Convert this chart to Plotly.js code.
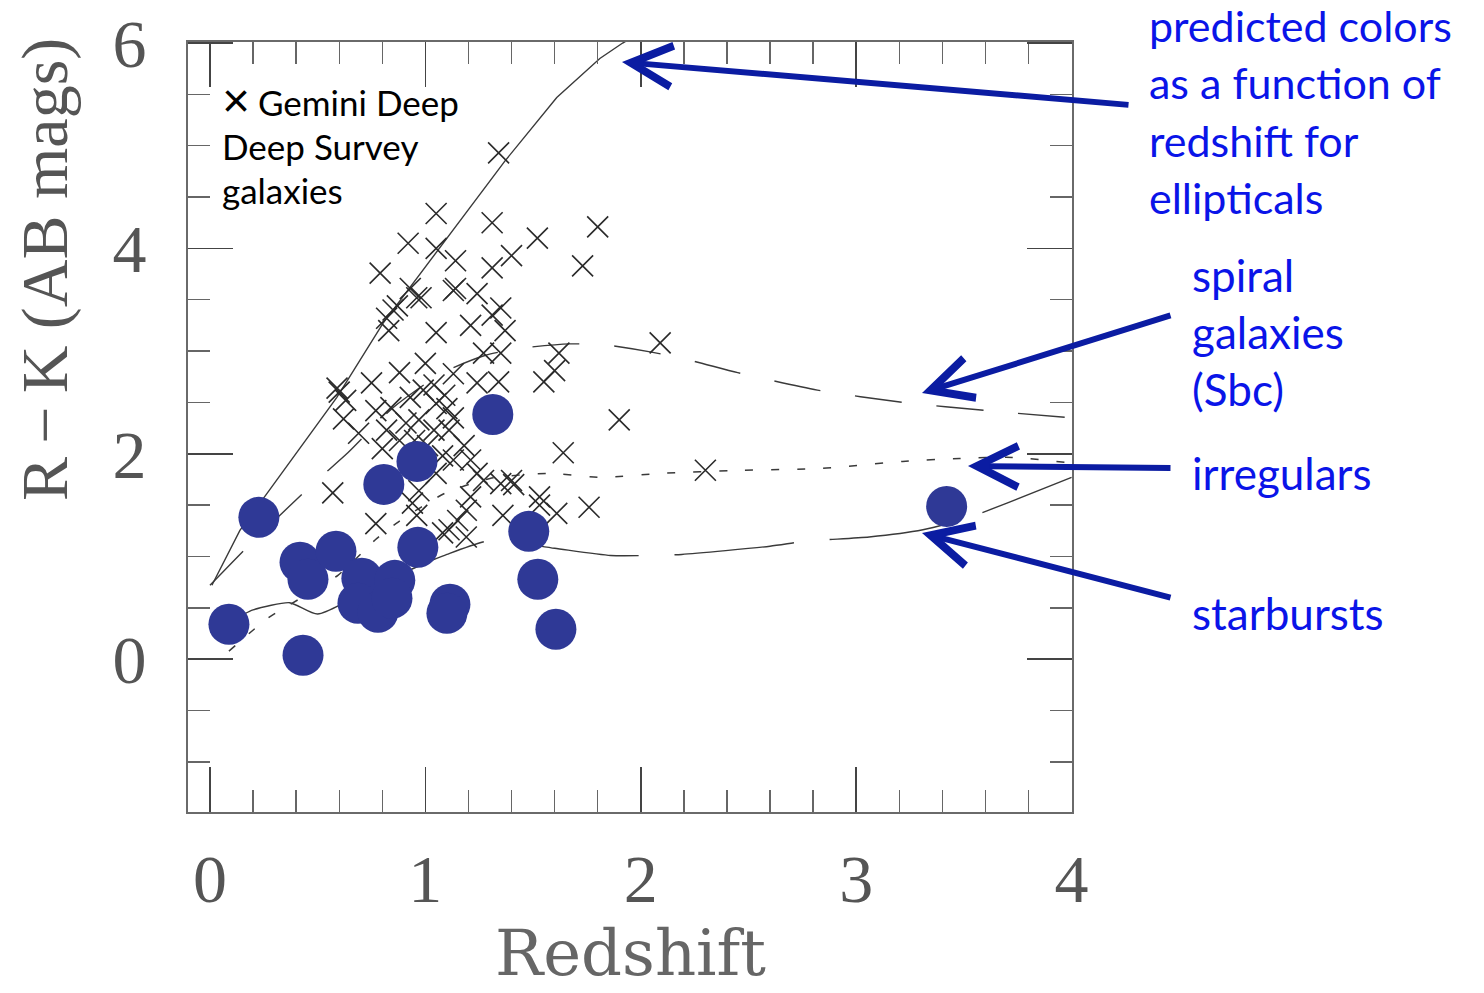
<!DOCTYPE html>
<html>
<head>
<meta charset="utf-8">
<script src="https://cdn.plot.ly/plotly-3.0.1.min.js"></script>
<style>
  html, body { margin: 0; padding: 0; background: #ffffff; }
  #chart { width: 1484px; height: 993px; }
</style>
</head>
<body>
<div id="chart"></div>
<script>
// Gemini Deep Deep Survey galaxies (redshift, R-K colour)
const gddsZ = [1.34,1.05,1.31,1.80,1.52,1.40,1.73,0.92,0.79,1.05,
               1.14,1.31,1.13,1.24,0.96,0.85,0.82,1.35,1.31,0.83,
               1.05,1.21,1.27,1.00,0.88,0.75,0.60,1.13,1.24,0.84,
               0.93,0.99,1.05,1.10,1.13,0.97,0.91,0.82,0.69,0.62,
               0.80,1.04,1.11,1.37,1.35,1.34,1.62,1.60,1.55,2.09,
               1.90,1.64,0.57,0.77,1.13,1.05,0.97,0.94,0.96,1.24,
               1.27,1.21,1.19,1.15,1.11,1.19,1.08,1.40,1.35,1.53,
               1.53,1.61,1.76,1.36,2.30,0.63,0.98,1.14,1.41,1.01,
               1.08,1.18,1.21,0.77,0.88,0.95,1.04,1.09,0.87,0.93,
               0.59];
const gddsRK = [4.93,4.34,4.25,4.21,4.10,3.93,3.83,4.05,3.76,4.00,
                3.88,3.81,3.59,3.56,3.52,3.40,3.32,3.42,3.35,3.20,
                3.18,3.25,2.98,2.88,2.79,2.69,2.60,2.78,2.69,2.45,
                2.55,2.62,2.49,2.44,2.35,2.33,2.30,2.23,2.20,2.34,
                2.05,2.23,2.23,3.20,2.98,2.70,2.98,2.81,2.70,3.08,
                2.33,2.01,1.62,1.32,1.94,1.81,1.64,1.52,1.40,1.81,
                1.74,1.58,1.45,1.35,1.26,1.19,1.23,1.74,1.71,1.58,
                1.50,1.42,1.48,1.40,1.84,2.52,3.52,3.61,1.70,2.08,
                1.98,2.08,1.94,2.42,2.13,2.13,2.67,2.57,3.44,3.61,
                2.64];

// Highlighted galaxies (filled blue circles)
const dotZ  = [0.227,0.088,0.432,0.418,0.455,0.585,0.807,0.961,0.965,1.313,
               1.480,1.522,1.606,1.114,1.100,3.420,0.705,0.858,0.687,0.780,0.845];
const dotRK = [1.381,0.340,0.039,0.944,0.778,1.051,1.702,1.926,1.089,2.383,
               1.245,0.778,0.292,0.535,0.447,1.488,0.788,0.768,0.545,0.457,0.593];

// Model colour tracks versus redshift
const ellZ  = [0.009,0.139,0.265,0.385,0.589,0.803,0.942,1.10,1.369,1.61,1.81,1.916,2.0];
const ellRK = [0.72,1.255,1.615,1.965,2.55,3.27,3.66,4.10,4.85,5.47,5.85,6.0,6.1];

const sbcZ  = [0.0,0.2,0.48,0.64,0.85,1.08,1.28,1.45,1.67,1.84,2.05,2.23,2.45,2.82,3.22,3.61,4.0];
const sbcRK = [0.72,1.15,1.71,2.01,2.45,2.79,2.96,3.03,3.07,3.06,2.99,2.91,2.79,2.62,2.50,2.42,2.35];

const irrZ  = [0.088,0.269,0.594,0.775,0.872,1.09,1.30,1.564,1.824,2.088,2.459,2.845,3.216,3.48,3.726,4.0];
const irrRK = [0.078,0.40,0.817,1.177,1.333,1.615,1.76,1.809,1.770,1.809,1.839,1.858,1.926,1.955,1.965,1.91];

const sbZ  = [0.09,0.2,0.37,0.5,0.8,1.1,1.31,1.60,1.86,2.04,2.19,2.60,2.77,3.06,3.31,3.51,3.70,4.0];
const sbRK = [0.36,0.48,0.55,0.44,0.75,1.02,1.16,1.08,1.01,1.01,1.02,1.10,1.15,1.19,1.26,1.37,1.52,1.77];

// Text labels
const legendLines = ['Gemini Deep', 'Deep Survey', 'galaxies'];
const ellLabel = ['predicted colors', 'as a function of', 'redshift for', 'ellipticals'];
const sbcLabel = ['spiral', 'galaxies', '(Sbc)'];
const irrLabel = ['irregulars'];
const sbLabel = ['starbursts'];

const lineColor = '#3a3a3a';
const noteBlue = '#0a14e8';
const arrowBlue = '#0b1ca2';

const traces = [
  { x: ellZ, y: ellRK, mode: 'lines', line: { color: lineColor, width: 1.4 }, hoverinfo: 'skip' },
  { x: sbcZ, y: sbcRK, mode: 'lines', line: { color: lineColor, width: 1.4, dash: '47px,35px', shape: 'spline', smoothing: 0.6 }, hoverinfo: 'skip' },
  { x: irrZ, y: irrRK, mode: 'lines', line: { color: lineColor, width: 1.5, dash: '8px,18px', shape: 'spline', smoothing: 0.6 }, hoverinfo: 'skip' },
  { x: sbZ, y: sbRK, mode: 'lines', line: { color: lineColor, width: 1.4, dash: '120px,36px', shape: 'spline', smoothing: 0.6 }, hoverinfo: 'skip' },
  { x: gddsZ, y: gddsRK, mode: 'markers',
    marker: { symbol: 'x-thin-open', size: 21, color: '#2a2a2a', line: { color: '#2a2a2a', width: 1.6 } } },
  { x: dotZ, y: dotRK, mode: 'markers',
    marker: { symbol: 'circle', size: 41, color: '#2f3996', line: { width: 0 } } }
];

// Plot area in pixels: left 188, right 1072, top 42, bottom 812
const L = 188, R = 1072, T = 42, B = 812;
const px = v => (v - L) / (R - L);
const py = v => (B - v) / (B - T);

const annotations = [];

// Legend entry for the crosses
annotations.push({ xref: 'paper', yref: 'paper', x: px(220), y: py(101), xanchor: 'left', yanchor: 'middle',
  text: '×', showarrow: false, font: { family: 'Liberation Sans', size: 48, color: '#000' } });
legendLines.forEach((t, i) => {
  annotations.push({ xref: 'paper', yref: 'paper', x: px(i === 0 ? 256 : 220), y: py(102 + 44 * i),
    xanchor: 'left', yanchor: 'middle', text: t, showarrow: false,
    font: { family: 'Lato', size: 35, color: '#000' } });
});

function addBlock(lines, left, firstY, size) {
  lines.forEach((t, i) => {
    annotations.push({ xref: 'paper', yref: 'paper', x: px(left), y: py(firstY + 57 * i),
      xanchor: 'left', yanchor: 'middle', text: t, showarrow: false,
      font: { family: 'Lato', size: size, color: noteBlue } });
  });
}
addBlock(ellLabel, 1147, 26, 43);
addBlock(sbcLabel, 1190, 275, 44);
addBlock(irrLabel, 1190, 473, 44);
addBlock(sbLabel, 1190, 613, 44);

// Pointer arrows (tip, tail in pixels)
const arrows = [
  [622, 62, 1130, 105],
  [922, 393, 1172, 315],
  [968, 466, 1172, 468],
  [922, 533, 1172, 598]
];
arrows.forEach(a => {
  annotations.push({ xref: 'paper', yref: 'paper', x: px(a[0]), y: py(a[1]),
    ax: a[2] - a[0], ay: a[3] - a[1], axref: 'pixel', ayref: 'pixel',
    text: '', showarrow: true, arrowhead: 5, arrowsize: 1.35, arrowwidth: 6, arrowcolor: arrowBlue, standoff: 0 });
});

// Axis titles
annotations.push({ xref: 'paper', yref: 'paper', x: px(45), y: py(270), xanchor: 'center', yanchor: 'middle',
  text: 'R\u2009\u2212\u2009K (AB mags)', textangle: -90, showarrow: false,
  font: { family: 'Liberation Serif', size: 66, color: '#555' } });
annotations.push({ xref: 'paper', yref: 'paper', x: px(630), y: py(953), xanchor: 'center', yanchor: 'middle',
  text: 'Redshift', showarrow: false,
  font: { family: 'DejaVu Serif', size: 64, color: '#666' } });

const tickFont = { family: 'Liberation Serif', size: 68, color: '#555' };

const layout = {
  width: 1484, height: 993,
  margin: { l: L, r: 1484 - R, t: T, b: 993 - B, pad: 0 },
  paper_bgcolor: '#fff', plot_bgcolor: '#fff',
  showlegend: false,
  xaxis: {
    range: [-0.102, 4.002], tickvals: [0, 1, 2, 3, 4],
    showline: true, linecolor: '#6a6a6a', linewidth: 2, mirror: 'ticks',
    ticks: 'inside', ticklen: 45, tickwidth: 1.6, tickcolor: '#444',
    minor: { dtick: 0.2, tick0: 0, ticks: 'inside', ticklen: 22, tickwidth: 1.4, tickcolor: '#666', showgrid: false },
    showgrid: false, zeroline: false,
    tickfont: tickFont, ticklabelstandoff: 6
  },
  yaxis: {
    range: [-1.488, 6.01], tickvals: [0, 2, 4, 6],
    showline: true, linecolor: '#6a6a6a', linewidth: 2, mirror: 'ticks',
    ticks: 'inside', ticklen: 45, tickwidth: 1.6, tickcolor: '#444',
    minor: { dtick: 0.5, tick0: 0, ticks: 'inside', ticklen: 22, tickwidth: 1.4, tickcolor: '#666', showgrid: false },
    showgrid: false, zeroline: false,
    tickfont: tickFont, ticklabelstandoff: 26
  },
  annotations: annotations
};

Plotly.newPlot('chart', traces, layout, { staticPlot: true, displayModeBar: false });
</script>
</body>
</html>
